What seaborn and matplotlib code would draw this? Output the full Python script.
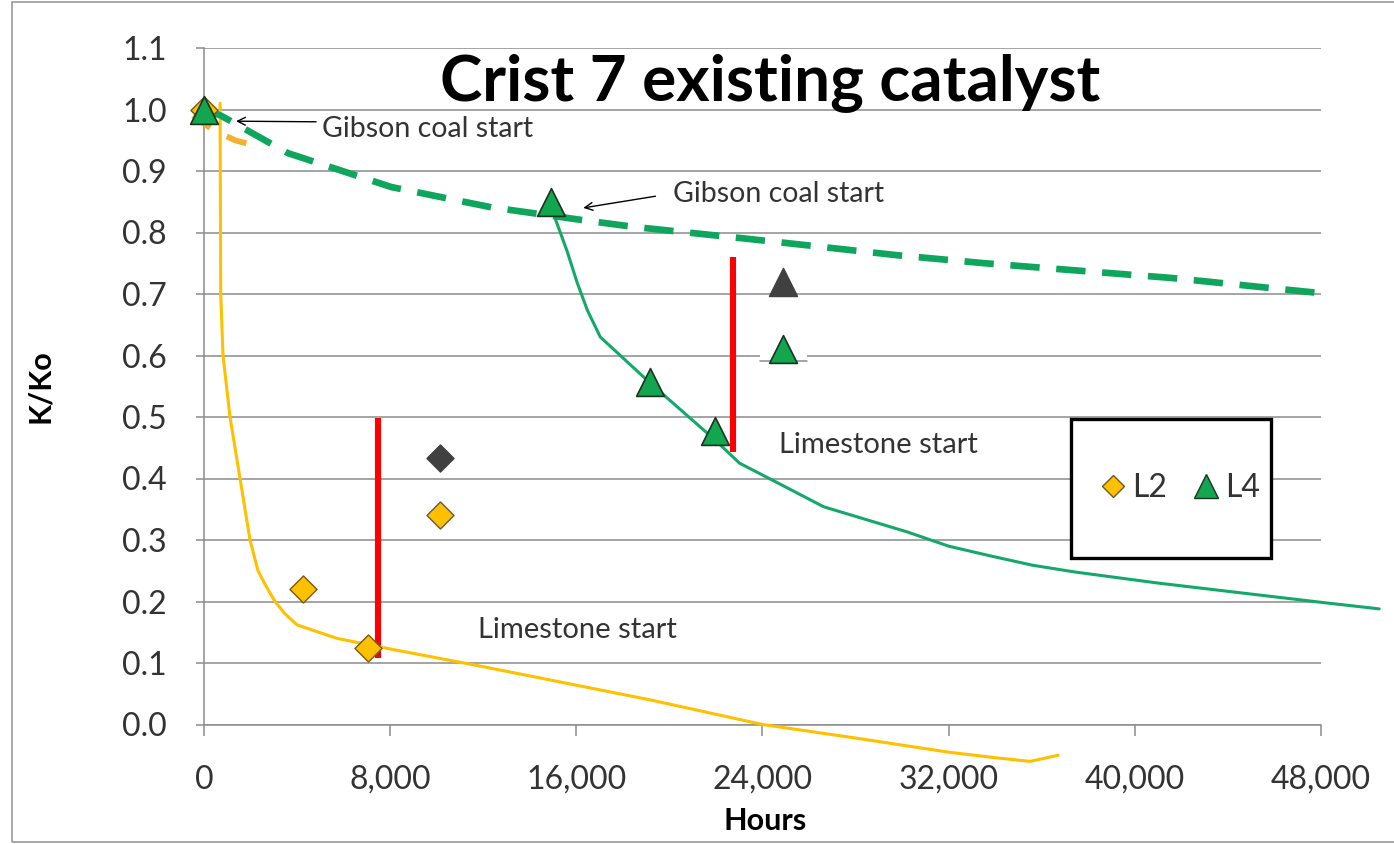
import seaborn as sns
import matplotlib.pyplot as plt
from matplotlib.lines import Line2D
from matplotlib.patches import Rectangle
from matplotlib.ticker import FuncFormatter

# measured catalyst activity points
l2_hours = [0, 4260, 7050, 10150]
l2_kko = [1.0, 0.22, 0.124, 0.341]
l2_gray_hours = [10150]
l2_gray_kko = [0.433]

l4_hours = [0, 14925, 19180, 21980, 24900]
l4_kko = [1.0, 0.85, 0.557, 0.477, 0.61]
l4_gray_hours = [24900]
l4_gray_kko = [0.72]

# curves
l2_curve_hours = [690, 700, 710, 718, 817, 1118, 1548, 1978, 2320, 2620, 3050, 3480,
                  4000, 5720, 7700, 12000, 19180, 24000, 28000, 32000, 34000, 35500,
                  36700]
l2_curve_kko = [1.01, 0.9, 0.8, 0.7, 0.6, 0.5, 0.4, 0.3, 0.25, 0.228, 0.2, 0.18,
                0.162, 0.14, 0.125, 0.094, 0.04, 0.0, -0.022, -0.045, -0.054, -0.06,
                -0.05]

l2_dash_hours = [-470, 340, 1330, 2400]
l2_dash_kko = [0.99, 0.968, 0.95, 0.939]

l4_curve_hours = [14925, 15310, 15600, 16040, 16470, 17030, 19180, 21980, 23010,
                  24800, 26630, 30230, 32000, 33810, 35600, 37420, 40990, 44570,
                  48160, 50500]
l4_curve_kko = [0.84, 0.80, 0.77, 0.718, 0.674, 0.63, 0.555, 0.462, 0.425,
                0.39, 0.354, 0.313, 0.29, 0.274, 0.259, 0.248, 0.230, 0.214,
                0.198, 0.188]

l4_dash_hours = [0, 730, 3610, 8040, 12340, 16300, 18500, 23050, 25000, 29800,
                 33550, 41600, 48350]
l4_dash_kko = [1.0, 0.99, 0.929, 0.874, 0.841, 0.82, 0.809, 0.791, 0.783, 0.763,
               0.75, 0.726, 0.70]

# limestone start markers
red_hours = [7480, 22750]
red_low = [0.108, 0.443]
red_high = [0.498, 0.76]

x_ticks = [0, 8000, 16000, 24000, 32000, 40000, 48000]
y_ticks = [0.0, 0.1, 0.2, 0.3, 0.4, 0.5, 0.6, 0.7, 0.8, 0.9, 1.0, 1.1]

YELLOW = "#FFC000"
GREEN = "#12A64F"
GREEN_LINE = "#14A86A"
GRAY = "#8c8c8c"
TXT = "#333333"

sns.set_style("white")
plt.rcParams["font.family"] = ["Lato", "DejaVu Sans"]

fig = plt.figure(figsize=(13.94, 8.44), dpi=100)
ax = fig.add_axes([204 / 1394, 1 - 724.5 / 844, 1117 / 1394, 676.5 / 844])

# red vertical bars
ax.vlines(red_hours, red_low, red_high, color="#FF0000", lw=4.4, zorder=3)

# curves
sns.lineplot(x=l2_curve_hours, y=l2_curve_kko, color=YELLOW, lw=2.2, sort=False,
             estimator=None, ax=ax, zorder=3)
sns.lineplot(x=l2_dash_hours, y=l2_dash_kko, color="#F5B030", lw=4.2, sort=False,
             estimator=None, ax=ax, zorder=3, linestyle=(0, (3.6, 3.2)))
sns.lineplot(x=l4_curve_hours, y=l4_curve_kko, color=GREEN_LINE, lw=2.2, sort=False,
             estimator=None, ax=ax, zorder=3)
sns.lineplot(x=l4_dash_hours, y=l4_dash_kko, color="#0EA55C", lw=4.8, sort=False,
             estimator=None, ax=ax, zorder=3, linestyle=(0, (4.4, 2.5)))

# white patch behind the pasted L4 marker
bx, by = l4_hours[-1], l4_kko[-1]
ax.add_patch(Rectangle((bx - 1000, by - 0.02), 2000, 0.068, facecolor="white",
                       edgecolor="none", zorder=2))
ax.plot([bx - 1000, bx + 1000], [by - 0.0195] * 2, color=GRAY, lw=1.1, zorder=2.1)

# markers
sns.scatterplot(x=l2_hours, y=l2_kko, marker="D", s=190, color=YELLOW,
                edgecolor="#6b5a2a", linewidth=1, ax=ax, zorder=4)
sns.scatterplot(x=l2_gray_hours, y=l2_gray_kko, marker="D", s=190, color="#404040",
                edgecolor="#404040", linewidth=1, ax=ax, zorder=4)
sns.scatterplot(x=l4_hours, y=l4_kko, marker="^", s=400, color=GREEN,
                edgecolor="#1c3322", linewidth=1.2, ax=ax, zorder=5)
sns.scatterplot(x=l4_gray_hours, y=l4_gray_kko, marker="^", s=400, color="#404040",
                edgecolor="#404040", linewidth=1.2, ax=ax, zorder=5)

for art in ax.lines + ax.collections:
    art.set_clip_on(False)

# axes
ax.set_xlim(0, 48000)
ax.set_ylim(0, 1.1)
ax.set_xticks(x_ticks)
ax.set_yticks(y_ticks)
ax.xaxis.set_major_formatter(FuncFormatter(lambda v, p: f"{v:,.0f}"))
ax.yaxis.set_major_formatter(FuncFormatter(lambda v, p: f"{v:.1f}"))
ax.yaxis.grid(True, color=GRAY, lw=1.1)
ax.xaxis.grid(False)
ax.set_axisbelow(True)
for side in ["top", "right"]:
    ax.spines[side].set_visible(False)
for side in ["left", "bottom"]:
    ax.spines[side].set_color(GRAY)
    ax.spines[side].set_linewidth(1.1)
ax.tick_params(axis="y", left=True, direction="out", length=5.8, width=1.1, color=GRAY,
               pad=21, labelsize=23, labelcolor=TXT)
ax.tick_params(axis="x", bottom=True, direction="out", length=8, width=1.1, color=GRAY,
               pad=21, labelsize=23, labelcolor=TXT)
ax.set_xlabel("")
ax.set_ylabel("")

# annotations
ax.text(5075, 0.968, "Gibson coal start", fontsize=20.5, color=TXT, va="center", ha="left")
ax.text(20155, 0.862, "Gibson coal start", fontsize=20.5, color=TXT, va="center", ha="left")
ax.text(24690, 0.454, "Limestone start", fontsize=21, color=TXT, va="center", ha="left")
ax.text(11785, 0.153, "Limestone start", fontsize=21, color=TXT, va="center", ha="left")
arrow = dict(arrowstyle="->", color="black", lw=1, shrinkA=0, shrinkB=0,
             mutation_scale=14)
ax.annotate("", xy=(1376, 0.981), xytext=(4817, 0.980), arrowprops=arrow)
ax.annotate("", xy=(16300, 0.840), xytext=(19400, 0.859), arrowprops=arrow)

# legend in a heavy black box
ax.add_patch(Rectangle((0.776, 0.246), 0.179, 0.2056, transform=ax.transAxes,
                       facecolor="white", edgecolor="black", lw=2.4, zorder=6))
handles = [
    Line2D([], [], ls="none", marker="D", markersize=11.5, markerfacecolor=YELLOW,
           markeredgecolor="#6b5a2a"),
    Line2D([], [], ls="none", marker="^", markersize=17, markerfacecolor=GREEN,
           markeredgecolor="#1c3322"),
]
leg = ax.legend(handles, ["L2", "L4"], ncol=2, loc="center",
                bbox_to_anchor=(0.874, 0.349), frameon=False, fontsize=23,
                handlelength=0.8, handletextpad=0.2, columnspacing=0.8,
                labelcolor=TXT)
leg.set_zorder(7)

# titles
fig.text(770 / 1394, 1 - 100 / 844, "Crist 7 existing catalyst", fontsize=46,
         fontweight="bold", color="black", ha="center", va="baseline")
fig.text(765 / 1394, 1 - 830 / 844, "Hours", fontsize=22, fontweight="bold",
         color="black", ha="center", va="baseline")
fig.text(40 / 1394, 1 - 386 / 844, "K/Ko", fontsize=22, fontweight="bold",
         color="black", ha="center", va="center", rotation=90)

# outer chart border
fig.add_artist(Rectangle((12 / 1394, 2 / 844), 1.2, 840 / 844,
                         transform=fig.transFigure, fill=False,
                         edgecolor="#9a9a9a", lw=1.2))

fig.savefig("out.png", dpi=100)
